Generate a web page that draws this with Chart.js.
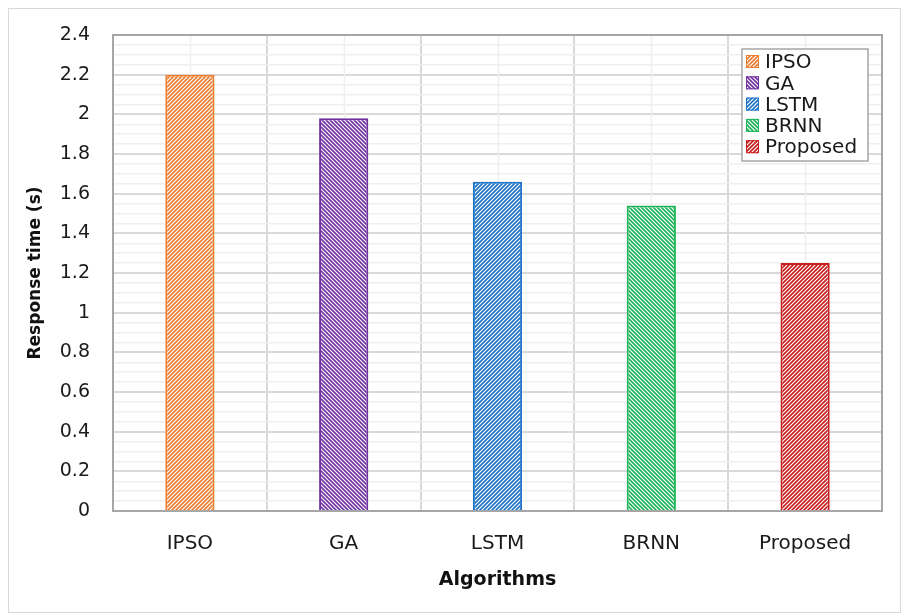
<!DOCTYPE html>
<html>
<head>
<meta charset="utf-8">
<script src="https://cdn.jsdelivr.net/npm/chart.js@4.4.1/dist/chart.umd.min.js"></script>
<style>
html,body{margin:0;padding:0;background:#fff;}
#wrap{position:relative;width:901px;height:613px;}
</style>
</head>
<body>
<div id="wrap"><canvas id="c" width="901" height="613"></canvas></div>
<script>
// ---- data ----
const categories = ["IPSO", "GA", "LSTM", "BRNN", "Proposed"];
const responseTime = [2.2, 1.98, 1.66, 1.54, 1.25];
const barColors = ["#ED7D31", "#7030A0", "#1F74C8", "#1DB45A", "#C81E1E"];
const hatchDirs = ["up", "down", "up", "down", "up"];
const yTickLabels = ["0", "0.2", "0.4", "0.6", "0.8", "1", "1.2", "1.4", "1.6", "1.8", "2", "2.2", "2.4"];

const FONT = "'DejaVu Sans', 'Open Sans', sans-serif";

function makePattern(color, dir) {
  const s = 4;
  const cv = document.createElement('canvas');
  cv.width = s; cv.height = s;
  const g = cv.getContext('2d');
  g.fillStyle = color;
  g.fillRect(0, 0, s, s);
  g.strokeStyle = '#ffffff';
  g.lineWidth = 1.18;
  g.beginPath();
  if (dir === 'up') {
    g.moveTo(-1, s + 1); g.lineTo(s + 1, -1);
    g.moveTo(-1, 1); g.lineTo(1, -1);
    g.moveTo(s - 1, s + 1); g.lineTo(s + 1, s - 1);
  } else {
    g.moveTo(-1, -1); g.lineTo(s + 1, s + 1);
    g.moveTo(-1, s - 1); g.lineTo(1, s + 1);
    g.moveTo(s - 1, -1); g.lineTo(s + 1, 1);
  }
  g.stroke();
  return g.createPattern(cv, 'repeat');
}
const patterns = barColors.map((c, i) => makePattern(c, hatchDirs[i]));

function isMajor(v) {
  const k = Math.round(v / 0.05);
  return k % 4 === 0;
}

const bgPlugin = {
  id: 'bg',
  beforeDraw(chart) {
    const c = chart.ctx;
    c.save();
    c.fillStyle = '#fff';
    c.fillRect(0, 0, chart.width, chart.height);
    c.strokeStyle = '#d9d9d9';
    c.lineWidth = 1;
    c.strokeRect(8.5, 8.5, chart.width - 9, chart.height - 9);
    c.restore();
  },
  beforeDatasetsDraw(chart) {
    const c = chart.ctx, a = chart.chartArea, xs = chart.scales.x;
    c.save();
    c.strokeStyle = '#efefef';
    c.lineWidth = 1.5;
    categories.forEach((cat, i) => {
      const x = Math.round(xs.getPixelForValue(i)) + 0.5;
      c.beginPath(); c.moveTo(x, a.top); c.lineTo(x, a.bottom); c.stroke();
    });
    c.restore();
  },
  afterDatasetsDraw(chart) {
    const c = chart.ctx, a = chart.chartArea;
    c.save();
    c.strokeStyle = '#a6a6a6';
    c.lineWidth = 2;
    c.strokeRect(a.left, a.top, a.right - a.left, a.bottom - a.top);
    // legend
    const lx = 742, ly = 49, lw = 126, lh = 112;
    c.fillStyle = '#fff';
    c.fillRect(lx, ly, lw, lh);
    c.strokeStyle = '#a6a6a6';
    c.lineWidth = 1.5;
    c.strokeRect(lx, ly, lw, lh);
    c.font = "20px " + FONT;
    c.textBaseline = 'middle';
    c.textAlign = 'left';
    categories.forEach((cat, i) => {
      const cy = 62 + i * 21.3;
      c.fillStyle = patterns[i];
      c.fillRect(746, cy - 7, 13, 13);
      c.strokeStyle = barColors[i];
      c.lineWidth = 1;
      c.strokeRect(746.5, cy - 6.5, 12, 12);
      c.fillStyle = '#1a1a1a';
      c.fillText(cat, 765, cy + 1);
    });
    c.restore();
  }
};

new Chart(document.getElementById('c'), {
  type: 'bar',
  data: {
    labels: categories,
    datasets: [{
      label: 'Response time (s)',
      data: responseTime,
      backgroundColor: patterns,
      borderColor: barColors,
      borderWidth: 2,
      borderSkipped: 'bottom',
      barPercentage: 0.64,
      categoryPercentage: 0.5
    }]
  },
  options: {
    responsive: false,
    animation: false,
    devicePixelRatio: 1,
    layout: { padding: { left: 0, top: 35, right: 19, bottom: 0 } },
    plugins: { legend: { display: false }, tooltip: { enabled: false } },
    scales: {
      x: {
        offset: true,
        grid: { offset: true, color: '#d9d9d9', lineWidth: 2, drawTicks: false },
        border: { display: false },
        ticks: { color: '#1a1a1a', font: { family: FONT, size: 20 }, padding: 21 },
        title: { display: true, text: 'Algorithms', color: '#111',
                 font: { family: FONT, size: 19, weight: 'bold' }, padding: { bottom: 22, top: 0 } },
        afterFit(s) { s.height = 102; }
      },
      y: {
        min: 0, max: 2.4,
        grid: {
          drawTicks: false,
          color: (ctx) => isMajor(ctx.tick.value) ? '#d9d9d9' : '#efefef',
          lineWidth: (ctx) => isMajor(ctx.tick.value) ? 2 : 1.5
        },
        border: { display: false },
        ticks: {
          stepSize: 0.05,
          autoSkip: false,
          color: '#1a1a1a',
          font: { family: FONT, size: 19 },
          padding: 23,
          callback: (v) => isMajor(v) ? yTickLabels[Math.round(v / 0.2)] : ''
        },
        title: { display: true, text: 'Response time (s)', color: '#111',
                 font: { family: FONT, size: 17, weight: 'bold' }, padding: { top: 25 } },
        afterFit(s) { s.width = 113; }
      }
    }
  },
  plugins: [bgPlugin]
});
</script>
</body>
</html>
